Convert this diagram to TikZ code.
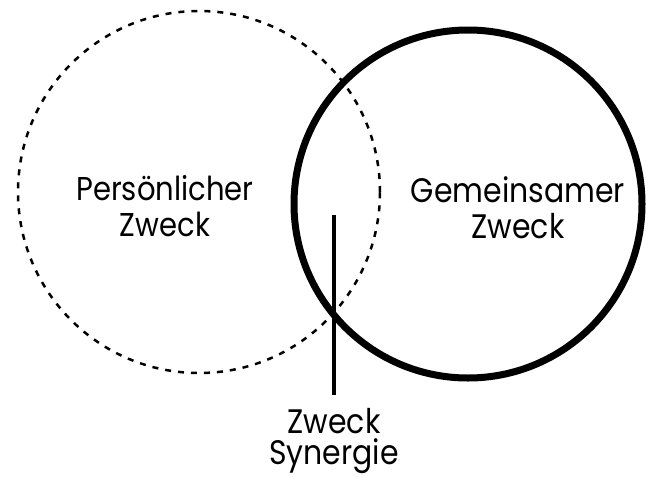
\documentclass[tikz,border=0pt]{standalone}
\usepackage{fontspec}
\setmainfont{Poppins}[FakeStretch=0.88]
\begin{document}
\begin{tikzpicture}[x=1pt,y=-1pt,
  ring/.style={circle,inner sep=0pt,outer sep=0pt},
  dashring/.style={ring,draw,line width=2.5pt,dash pattern=on 6pt off 7pt},
  solidring/.style={ring,draw,line width=7pt},
  label/.style={align=center,inner sep=0pt,font=\fontsize{33}{36}\selectfont},
  pointer/.style={draw,line width=4pt}]
\useasboundingbox (0,0) rectangle (648,477);
\fill[white] (0,0) rectangle (648,477);
% the two purposes
\node[dashring,minimum size=362pt] (pers) at (199,192) {};
\node[solidring,minimum size=348pt] (gem) at (468,204) {};
\node[label] (perslab) at (165,206) {Persönlicher\\Zweck};
\node[label,font=\fontsize{34}{36}\selectfont] (gemlab) at (518,208) {Gemeinsamer\\Zweck};
% synergy marker through the overlap
\node[label,font=\fontsize{34}{31}\selectfont,anchor=north] (syn) at (334,408) {Zweck\\Synergie};
\coordinate (mark) at (334,215);
\draw[pointer] (mark) -- ([yshift=13pt]syn.north);
\end{tikzpicture}
\end{document}
